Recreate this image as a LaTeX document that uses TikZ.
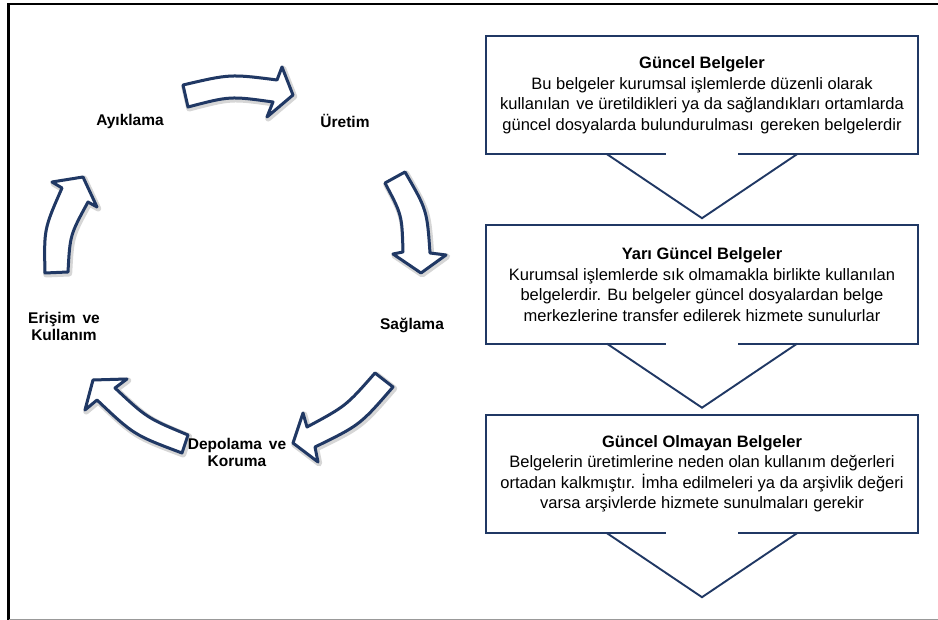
\documentclass[tikz,border=0pt]{standalone}
\usepackage{fontspec}
\setmainfont{Liberation Sans}
\usetikzlibrary{calc}

\definecolor{navy}{RGB}{32,56,100}

\tikzset{
  frameline/.style={draw=black, line width=2.6pt, line cap=rect},
  baseline rule/.style={draw=black!40, line width=1.2pt},
  arrowbody/.style={draw=navy, fill=white, line width=3pt, line join=round},
  arrowhalo/.style={draw=black, opacity=0.16, line width=6pt, line join=round,
                    xshift=1.2pt, yshift=-1.5pt},
  stage/.style={font=\bfseries\fontsize{15.5}{17}\selectfont, align=center, inner sep=0pt},
  infobox/.style={minimum width=432pt, minimum height=118pt, align=center, inner sep=0pt,
                  font=\fontsize{16.5}{20.5}\selectfont},
  boxline/.style={draw=navy, line width=1.9pt, line join=miter}
}

% curved block arrow with a soft halo underneath
\newcommand{\blockarrow}[1]{\path[arrowhalo] #1; \path[arrowbody] #1;}

% box whose lower edge opens into a downward chevron
\newcommand{\chevronbox}[1]{%
  \draw[boxline] ($(#1.south)+(36,0)$) -- (#1.south east) -- (#1.north east)
     -- (#1.north west) -- (#1.south west) -- ($(#1.south)+(-36,0)$);
  \draw[boxline] ($(#1.south)+(-95,0)$) -- ($(#1.south)+(0,64)$) -- ($(#1.south)+(95,0)$);
}

\begin{document}
\begin{tikzpicture}[x=1pt,y=-1pt]
\useasboundingbox (0,0) rectangle (938,620);
\fill[white] (0,0) rectangle (938,620);

% outer frame
\draw[frameline] (940,4) -- (8.5,4) -- (8.5,619);
\draw[baseline rule] (8.5,619.5) -- (940,619.5);

% life-cycle arrows
\blockarrow{(183,85) .. controls (230,74) .. (277,80) -- (282,67) -- (293,95) -- (267,117)
  -- (273,102) .. controls (230,96) .. (188,107) -- cycle}
\blockarrow{(385,183) -- (405,172) .. controls (427,210) .. (430,253) -- (446,255) -- (421,273)
  -- (393,254) -- (403,252) .. controls (402,215) .. (385,183) -- cycle}
\blockarrow{(375,373) -- (393,387) .. controls (360,425) .. (315,447) -- (318,462) -- (293,443)
  -- (303,413) -- (307,427) .. controls (346,406) .. (375,373) -- cycle}
\blockarrow{(188,435) -- (182,453) .. controls (134,435) .. (97,400) -- (85,410) -- (93,380)
  -- (127,379) -- (115,388) .. controls (147,418) .. (188,435) -- cycle}
\blockarrow{(45,273) .. controls (44,229) .. (62,188) -- (52,182) -- (83,177) -- (97,207)
  -- (88,202) .. controls (70,235) .. (68,272) -- cycle}

% life-cycle stages
\node[stage] (uretim)   at (345,121) {Üretim};
\node[stage] (saglama)  at (412,325) {Sağlama};
\node[stage] (depolama) at (237,452) {Depolama\hspace{0.45em}ve\\Koruma};
\node[stage] (erisim)   at (64,326)  {Erişim\hspace{0.45em}ve\\Kullanım};
\node[stage] (ayiklama) at (130,121) {Ayıklama};

% record categories
\node[infobox] (guncel) at (702,95) {\textbf{Güncel Belgeler}\\
  Bu belgeler kurumsal işlemlerde düzenli olarak\\
  kullanılan\hspace{0.4em}ve üretildikleri ya da sağlandıkları ortamlarda\\
  güncel dosyalarda bulundurulması\hspace{0.4em}gereken belgelerdir};
\node[infobox] (yari) at (702,284.5) {\textbf{Yarı Güncel Belgeler}\\
  Kurumsal işlemlerde sık olmamakla birlikte kullanılan\\
  belgelerdir. Bu belgeler güncel dosyalardan belge\\
  merkezlerine transfer edilerek hizmete sunulurlar};
\node[infobox] (olmayan) at (702,474) {\textbf{Güncel Olmayan Belgeler}\\
  Belgelerin üretimlerine neden olan kullanım değerleri\\
  ortadan kalkmıştır. İmha edilmeleri ya da arşivlik değeri\\
  varsa arşivlerde hizmete sunulmaları gerekir};

\chevronbox{guncel}
\chevronbox{yari}
\chevronbox{olmayan}
\end{tikzpicture}
\end{document}
